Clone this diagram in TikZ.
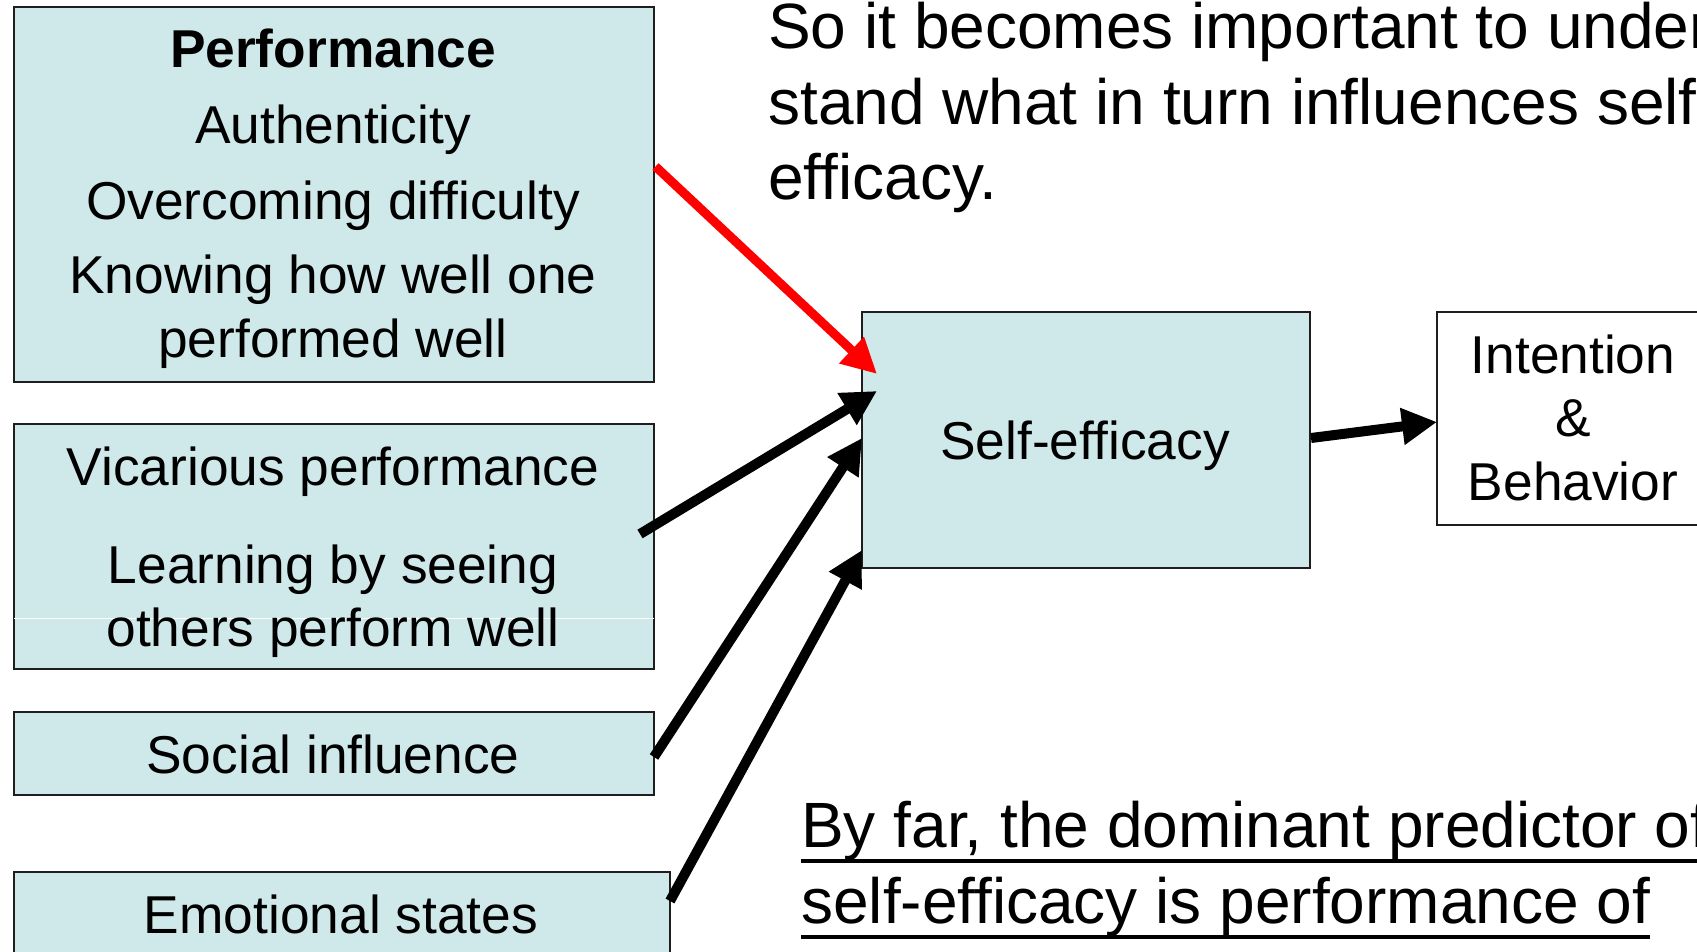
\documentclass[tikz,border=0pt]{standalone}
\usepackage{fontspec}
\setmainfont{Liberation Sans}
\usetikzlibrary{arrows.meta,calc}
\definecolor{boxfill}{RGB}{207,232,234}
\definecolor{boxline}{RGB}{30,30,30}
% underline drawn as a rule below the baseline
\newcommand\ulinetext[1]{\setbox0\hbox{#1}\rlap{\rule[-16pt]{\wd0}{4.5pt}}\box0}
\tikzset{
  box/.style={draw=boxline, line width=2pt, fill=boxfill, inner sep=0pt, anchor=north west},
  whitebox/.style={box, fill=white},
  lbl/.style={inner sep=0pt, anchor=base, font=\fontsize{53.3}{60}\selectfont},
  big/.style={inner sep=0pt, anchor=base west, font=\fontsize{64}{76}\selectfont},
  link/.style={line width=10pt, -{Triangle[length=35pt,width=35pt]}},
  redlink/.style={link, draw=red, line width=9pt, -{Triangle[length=35pt,width=34pt,fill=red]}},
}
\begin{document}
\begin{tikzpicture}[x=1pt,y=-1pt]
\useasboundingbox (0,0) rectangle (1697,952);
\clip (0,0) rectangle (1697,952);
\fill[white] (0,0) rectangle (1697,952);

% source boxes
\node[box, minimum width=640pt, minimum height=374.5pt] (perf) at (13,6.5) {};
\node[box, minimum width=640pt, minimum height=245pt] (vic) at (13,423) {};
\node[box, minimum width=640pt, minimum height=83pt] (soc) at (13,711) {};
\node[box, minimum width=656pt, minimum height=140pt] (emo) at (13,871) {};
\draw[white, line width=1pt] ($(vic.north west)+(1,195)$) -- ($(vic.north east)+(-1,195)$);

% target boxes
\node[box, minimum width=448pt, minimum height=256pt] (se) at (861,311) {};
\node[whitebox, minimum width=290pt, minimum height=213pt] (ib) at (1436,311) {};

% box texts
\node[lbl] (p1) at (333,68) {\bfseries Performance};
\node[lbl] (p2) at (333,144) {Authenticity};
\node[lbl] (p3) at (333,219) {Overcoming difficulty};
\node[lbl] (p4) at (333,293) {Knowing how well one};
\node[lbl] (p5) at (333,357) {performed well};
\node[lbl] (v1) at (333,485) {Vicarious performance};
\node[lbl] (v2) at (333,583) {Learning by seeing};
\node[lbl] (v3) at (333,646) {others perform well};
\node[lbl] (s1) at (333,773) {Social influence};
\node[lbl] (e1) at (341,933) {Emotional states};
\node[lbl] (se1) at (1085,459) {Self-efficacy};
\node[lbl] (i1) at (1573,373) {Intention};
\node[lbl] (i2) at (1573,436) {\&};
\node[lbl] (i3) at (1573,500) {Behavior};

% commentary text
\node[big] (t1) at (768,49) {So it becomes important to under};
\node[big] (t2) at (768,124.5) {stand what in turn influences self};
\node[big] (t3) at (768,200) {efficacy.};
\node[big] (b1) at (801,847) {\ulinetext{By far, the dominant predictor of}};
\node[big] (b2) at (801,923) {\ulinetext{self-efficacy is performance of}};

% connector end points
\coordinate (rs) at ($(perf.north east)+(0.5,160)$);
\coordinate (rt) at ($(se.north west)+(16,63)$);
\coordinate (vs) at ($(vic.north east)+(-15,111)$);
\coordinate (vt) at ($(se.north west)+(16,80)$);
\coordinate (ss) at ($(soc.north east)+(-1,46)$);
\coordinate (st) at ($(se.north west)+(1,127)$);
\coordinate (es) at ($(emo.north east)+(-1,30)$);
\coordinate (et) at ($(se.north west)+(1,239)$);
\coordinate (os) at ($(se.north east)+(0,127)$);
\coordinate (ot) at ($(ib.north west)+(1,111)$);

% connectors
\draw[redlink] (rs) -- (rt);
\draw[link] (vs) -- (vt);
\draw[link] (ss) -- (st);
\draw[link] (es) -- (et);
\draw[link] (os) -- (ot);
\end{tikzpicture}
\end{document}
